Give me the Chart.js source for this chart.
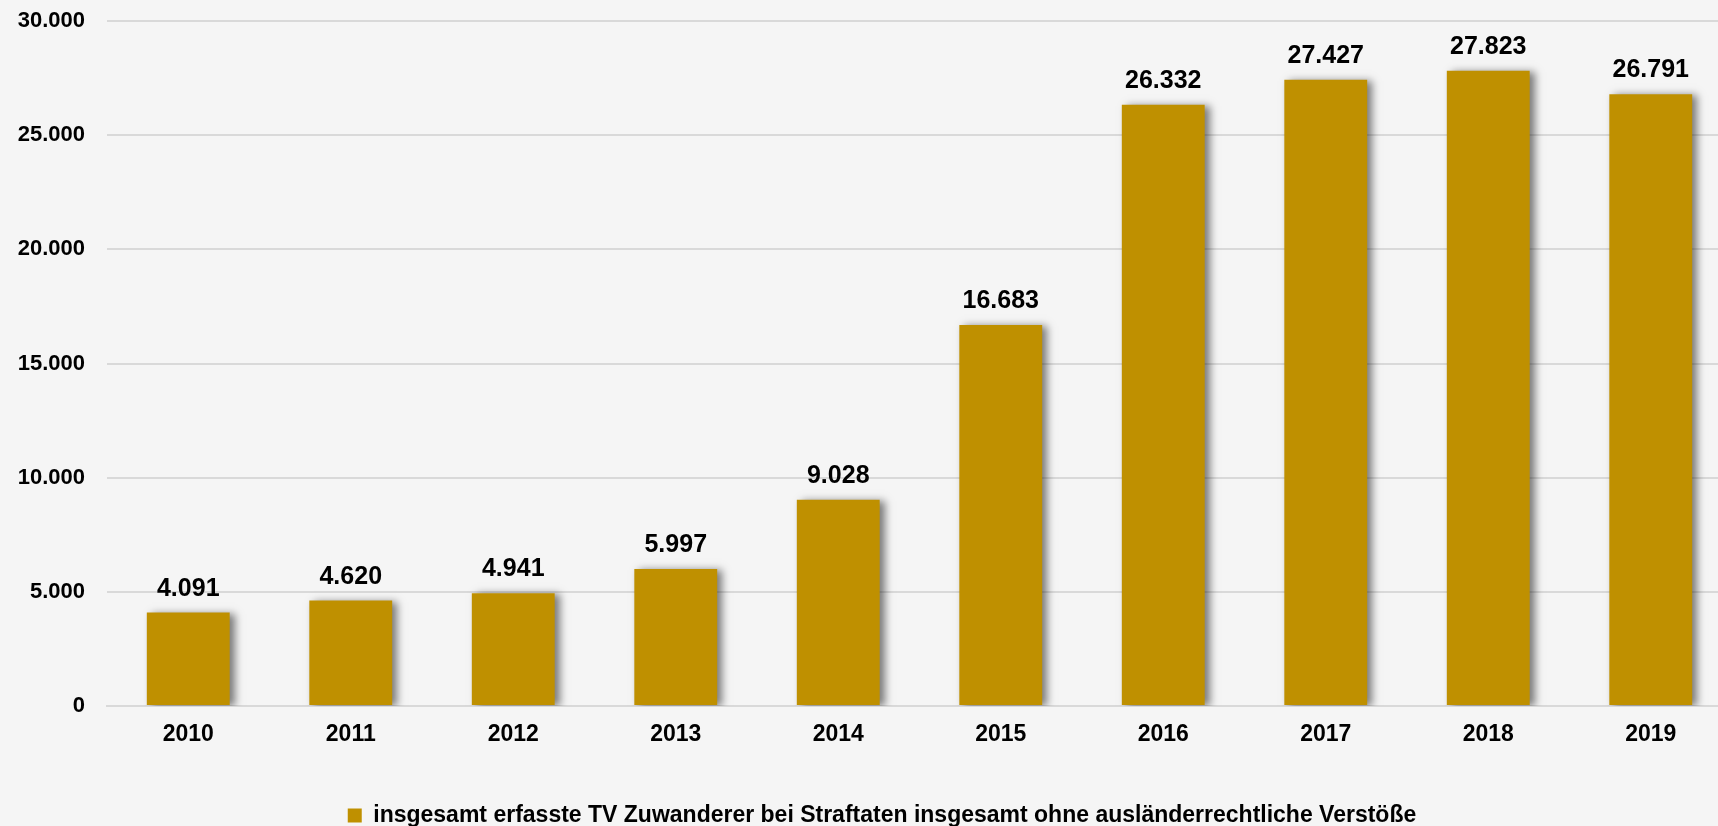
<!DOCTYPE html>
<html>
<head>
<meta charset="utf-8">
<script src="https://cdn.jsdelivr.net/npm/chart.js@4.4.1/dist/chart.umd.min.js"></script>
<style>
  html, body { margin: 0; padding: 0; background: #f5f5f5; overflow: hidden; }
  #wrap { position: absolute; left: 0; top: 0; width: 1732px; height: 826px; }
</style>
</head>
<body>
<div id="wrap"><canvas id="tv-chart"></canvas></div>
<script>
const years = ["2010", "2011", "2012", "2013", "2014", "2015", "2016", "2017", "2018", "2019"];
const tvZuwanderer = [4091, 4620, 4941, 5997, 9028, 16683, 26332, 27427, 27823, 26791];
const seriesLabel = "insgesamt erfasste TV Zuwanderer bei Straftaten insgesamt ohne ausländerrechtliche Verstöße";
const yMax = 30000;
const yStep = 5000;

const barColor = "#bf9000";
const fontFamily = "'Liberation Sans', Arial, sans-serif";

// 4091 -> "4.091"
function formatNumber(v) {
  return String(v).replace(/\B(?=(\d{3})+(?!\d))/g, ".");
}

// grey drop shadow behind the bars
const barShadow = {
  id: "barShadow",
  beforeDatasetsDraw(chart) {
    const ctx = chart.ctx;
    ctx.save();
    ctx.shadowColor = "rgba(0,0,0,0.5)";
    ctx.shadowBlur = 8;
    ctx.shadowOffsetX = 5;
    ctx.shadowOffsetY = 1;
  },
  afterDatasetsDraw(chart) {
    chart.ctx.restore();
  }
};

// value labels above the bars
const valueLabels = {
  id: "valueLabels",
  afterDraw(chart) {
    const ctx = chart.ctx;
    const meta = chart.getDatasetMeta(0);
    ctx.save();
    ctx.font = "bold 25px " + fontFamily;
    ctx.fillStyle = "#000";
    ctx.textAlign = "center";
    ctx.textBaseline = "alphabetic";
    meta.data.forEach((bar, i) => {
      ctx.fillText(formatNumber(tvZuwanderer[i]), bar.x, bar.y - 17);
    });
    ctx.restore();
  }
};

// legend sits a bit right of the canvas centre in the original
const legendShift = {
  id: "legendShift",
  afterLayout(chart) {
    chart.legend.left += 16;
    chart.legend.right += 16;
  }
};

const canvas = document.getElementById("tv-chart");
const chart = new Chart(canvas, {
  type: "bar",
  data: {
    labels: years,
    datasets: [
      {
        label: seriesLabel,
        data: tvZuwanderer,
        backgroundColor: barColor,
        borderWidth: 0,
        barPercentage: 0.51,
        categoryPercentage: 1
      }
    ]
  },
  options: {
    responsive: true,
    maintainAspectRatio: false,
    animation: false,
    layout: { padding: { top: 21, left: 0, right: 0, bottom: -11 } },
    plugins: {
      tooltip: { enabled: false },
      legend: {
        position: "bottom",
        labels: {
          color: "#000",
          font: { family: fontFamily, size: 23, weight: "bold" },
          boxWidth: 14,
          boxHeight: 14,
          padding: 0
        }
      }
    },
    scales: {
      x: {
        grid: { display: false, drawTicks: false },
        border: { color: "#d9d9d9", width: 2 },
        ticks: {
          color: "#000",
          font: { family: fontFamily, size: 23, weight: "bold" },
          padding: 15,
          maxRotation: 0
        },
        afterFit(scale) { scale.height = 98; }
      },
      y: {
        min: 0,
        max: yMax,
        grid: { color: "#d9d9d9", lineWidth: 2, drawTicks: false },
        border: { display: false },
        ticks: {
          stepSize: yStep,
          color: "#000",
          font: { family: fontFamily, size: 22, weight: "bold" },
          padding: 22,
          callback: (v) => formatNumber(v)
        },
        afterFit(scale) {
          scale.width = 107;
          scale.paddingTop = 0;
          scale.paddingBottom = 0;
        }
      }
    }
  },
  plugins: [barShadow, valueLabels, legendShift]
});
</script>
</body>
</html>
